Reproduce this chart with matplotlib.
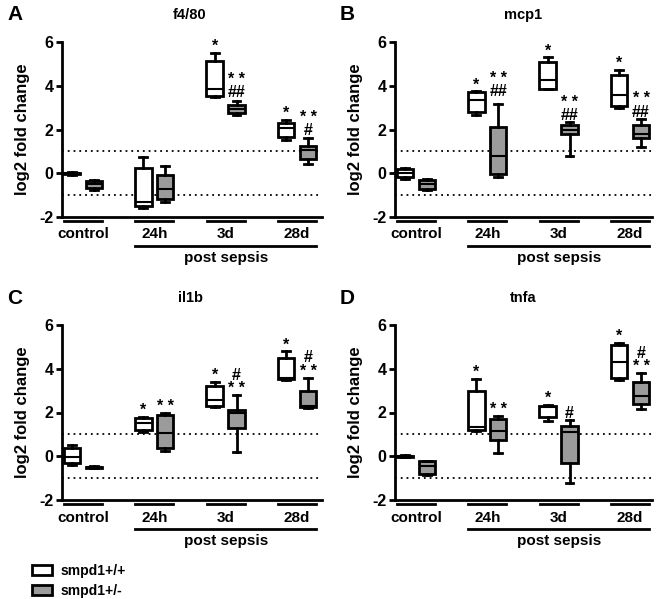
import matplotlib
matplotlib.use("Agg")
import matplotlib.pyplot as plt
from matplotlib.patches import Patch
import matplotlib.transforms as mtransforms

plt.rcParams['font.family'] = ['Liberation Sans', 'DejaVu Sans']
plt.rcParams['font.weight'] = 'bold'
plt.rcParams['axes.labelweight'] = 'bold'
plt.rcParams['axes.unicode_minus'] = False

groups = ["control", "24h", "3d", "28d"]
genotypes = ["smpd1+/+", "smpd1+/-"]
genes = ["f4/80", "mcp1", "il1b", "tnfa"]
letters = ["A", "B", "C", "D"]

# five-number summaries [whisker low, q1, median, q3, whisker high]
# order: control wt, control het, 24h wt, 24h het, 3d wt, 3d het, 28d wt, 28d het
f480 = [[-0.06, -0.03, 0.0, 0.03, 0.06], [-0.75, -0.68, -0.5, -0.35, -0.3],
        [-1.61, -1.5, -1.3, 0.25, 0.75], [-1.3, -1.17, -0.74, -0.06, 0.35],
        [3.47, 3.55, 3.86, 5.12, 5.5], [2.68, 2.75, 2.95, 3.1, 3.3],
        [1.54, 1.65, 2.05, 2.3, 2.45], [0.44, 0.67, 1.05, 1.25, 1.63]]
mcp1 = [[-0.25, -0.17, 0.0, 0.2, 0.25], [-0.78, -0.7, -0.47, -0.32, -0.28],
        [2.65, 2.8, 3.34, 3.72, 3.77], [-0.18, -0.03, 0.78, 2.12, 3.17],
        [3.83, 3.87, 4.25, 5.1, 5.3], [0.78, 1.8, 1.97, 2.2, 2.35],
        [3.0, 3.06, 3.57, 4.48, 4.74], [1.2, 1.6, 1.8, 2.2, 2.5]]
il1b = [[-0.38, -0.3, -0.05, 0.38, 0.5], [-0.55, -0.53, -0.5, -0.47, -0.45],
        [1.1, 1.2, 1.5, 1.75, 1.8], [0.25, 0.4, 1.05, 1.9, 2.0],
        [2.25, 2.3, 2.55, 3.2, 3.4], [0.2, 1.28, 2.0, 2.1, 2.8],
        [3.5, 3.52, 3.6, 4.5, 4.8], [2.2, 2.25, 2.3, 3.0, 3.6]]
tnfa = [[-0.05, -0.03, 0.0, 0.03, 0.05], [-0.85, -0.8, -0.45, -0.2, -0.2],
        [1.15, 1.2, 1.35, 3.0, 3.55], [0.15, 0.75, 1.15, 1.7, 1.85],
        [1.6, 1.8, 2.25, 2.3, 2.35], [-1.2, -0.3, 1.1, 1.4, 1.65],
        [3.5, 3.6, 4.3, 5.1, 5.2], [2.15, 2.4, 2.75, 3.4, 3.8]]
all_stats = [f480, mcp1, il1b, tnfa]

# significance marks above each box (text, y of text bottom)
f480_marks = [None, None, None, None, ("*", 5.45), ("* *\n##", 3.35), ("*", 2.4), ("* *\n#", 1.6)]
mcp1_marks = [None, None, ("*", 3.7), ("* *\n##", 3.4), ("*", 5.25), ("* *\n##", 2.3), ("*", 4.7), ("* *\n##", 2.45)]
il1b_marks = [None, None, ("*", 1.75), ("* *", 1.95), ("*", 3.35), ("#\n* *", 2.75), ("*", 4.75), ("#\n* *", 3.55)]
tnfa_marks = [None, None, ("*", 3.5), ("* *", 1.8), ("*", 2.3), ("#", 1.6), ("*", 5.15), ("#\n* *", 3.75)]
all_marks = [f480_marks, mcp1_marks, il1b_marks, tnfa_marks]

grey = "#9b9b9b"
centers = [0, 3.25, 6.5, 9.75]
positions = []
for c in centers:
    positions += [c - 0.5, c + 0.5]

fig = plt.figure(figsize=(6.6, 5.99), dpi=100)
W, H = 660.0, 599.0
ax_boxes = [(62, 42, 260), (395, 42, 257), (62, 325, 260), (395, 325, 257)]

for k in range(4):
    x0, ytop, w = ax_boxes[k]
    ax = fig.add_axes([x0 / W, 1 - (ytop + 175) / H, w / W, 175 / H])
    stats = []
    for s in all_stats[k]:
        stats.append(dict(whislo=s[0], q1=s[1], med=s[2], q3=s[3], whishi=s[4], fliers=[]))
    bp = ax.bxp(stats, positions=positions, widths=0.75, patch_artist=True,
                showfliers=False,
                boxprops=dict(linewidth=2, edgecolor="black"),
                whiskerprops=dict(linewidth=2, color="black"),
                capprops=dict(linewidth=2, color="black"),
                medianprops=dict(linewidth=1.5, color="black"),
                capwidths=0.35)
    for i, patch in enumerate(bp["boxes"]):
        patch.set_facecolor("white" if i % 2 == 0 else grey)

    ax.axhline(1, color="black", ls=(0, (1, 2.2)), lw=1.3, zorder=0)
    ax.axhline(-1, color="black", ls=(0, (1, 2.2)), lw=1.3, zorder=0)

    ax.set_ylim(-2, 6)
    ax.set_xlim(-0.95, 9.75 + (w - 235) / 22.0)
    ax.set_yticks([-2, 0, 2, 4, 6])
    ax.set_xticks([])
    ax.spines["top"].set_visible(False)
    ax.spines["right"].set_visible(False)
    ax.spines["left"].set_linewidth(2)
    ax.spines["bottom"].set_linewidth(2)
    ax.tick_params(axis="y", width=2, length=4, labelsize=11.5, pad=2)
    ax.set_ylabel("log2 fold change", fontsize=12, fontweight="bold", labelpad=7)

    for i, m in enumerate(all_marks[k]):
        if m is None:
            continue
        ax.text(positions[i], m[1], m[0], ha="center", va="bottom",
                fontsize=11.5, linespacing=0.85)

    # group bars below the axis
    trans = mtransforms.blended_transform_factory(ax.transData, ax.transAxes)
    for c, g in zip(centers, groups):
        ax.plot([c - 0.87, c + 0.87], [-0.022, -0.022], color="black", lw=2,
                transform=trans, clip_on=False)
        ax.text(c, -0.1, g, ha="center", va="center", fontsize=11, transform=trans)
    ax.plot([centers[1] - 0.87, centers[3] + 0.87], [-0.165, -0.165], color="black",
            lw=2, transform=trans, clip_on=False)
    ax.text((centers[1] + centers[3]) / 2, -0.235, "post sepsis", ha="center",
            va="center", fontsize=11, transform=trans)

    fig.text((x0 + 128) / W, 1 - (ytop - 27) / H, genes[k], ha="center",
             va="center", fontsize=10.5)
    fig.text((x0 - 55) / W, 1 - (ytop - 27) / H, letters[k], ha="left",
             va="center", fontsize=15)

handles = [Patch(facecolor="white", edgecolor="black", linewidth=2),
           Patch(facecolor=grey, edgecolor="black", linewidth=2)]
fig.legend(handles, genotypes, loc="lower left", bbox_to_anchor=(24 / W, -0.012),
           frameon=False, fontsize=10, handlelength=1.4, handleheight=0.7,
           handletextpad=0.6, labelspacing=0.45, borderaxespad=0.2)

fig.savefig("out.png", dpi=100)
